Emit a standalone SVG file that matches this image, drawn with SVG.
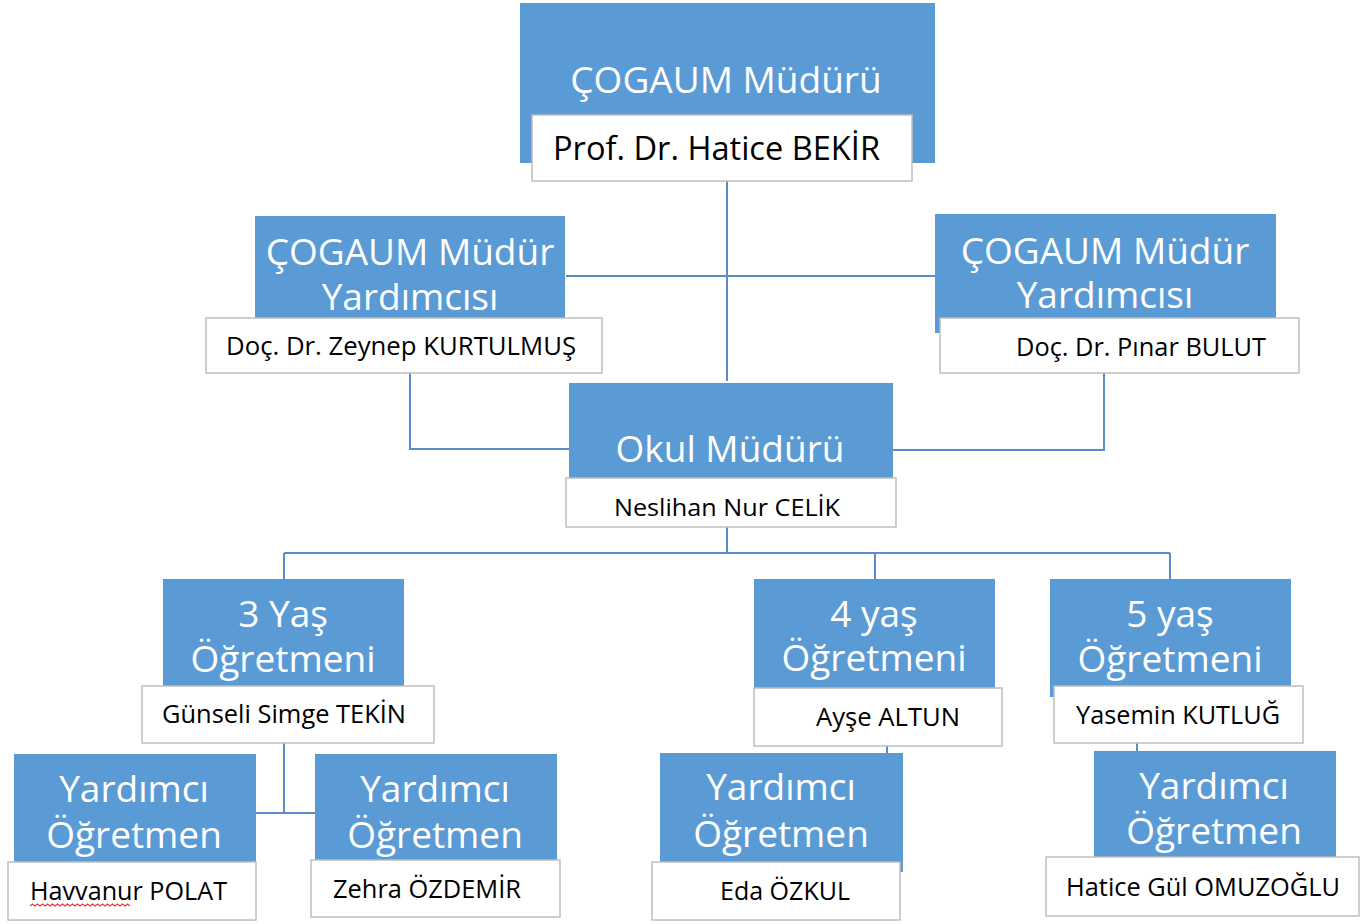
<svg xmlns="http://www.w3.org/2000/svg" width="1360" height="924" viewBox="0 0 1360 924">
<style>
.b{fill:#5B9BD5;}
.w{fill:#FFFFFF;stroke:#BFBFBF;stroke-width:1.5;}
.t{font-family:"Open Sans","Noto Sans",sans-serif;font-size:37px;fill:#FFFFFF;text-anchor:middle;}
.n{font-family:"Open Sans","Noto Sans",sans-serif;font-size:25px;fill:#000000;}
.c{fill:none;stroke:#5A8DC8;stroke-width:2;}
</style>
<rect width="1360" height="924" fill="#FFFFFF"/>
<g id="connectors">
<path class="c" d="M727 181 V381"/>
<path class="c" d="M566 276 H935"/>
<path class="c" d="M410 373 V449 H569"/>
<path class="c" d="M1104 373 V450 H893"/>
<path class="c" d="M727 527 V553"/>
<path class="c" d="M284 553 H1170"/>
<path class="c" d="M284 553 V579 M875 553 V579 M1170 553 V579"/>
<path class="c" d="M284 743 V813 M256 813 H315"/>
<path class="c" d="M887 746 V753" stroke-width="1.2"/>
<path class="c" d="M1137 743 V751" stroke-width="1.2"/>
</g>
<g id="cogaum-muduru">
<rect class="b" x="520" y="3" width="415" height="160"/>
<text class="t" x="726" y="93">ÇOGAUM Müdürü</text>
<rect class="w" x="532" y="115" width="380" height="66"/>
<text class="n" x="553" y="160" style="font-size:32px" textLength="327" lengthAdjust="spacingAndGlyphs">Prof. Dr. Hatice BEKİR</text>
</g>
<g id="mudur-yardimcisi-1">
<rect class="b" x="255" y="216" width="310" height="102"/>
<text class="t" x="410" y="265">ÇOGAUM Müdür</text>
<text class="t" x="410" y="310">Yardımcısı</text>
<rect class="w" x="206" y="318" width="396" height="55"/>
<text class="n" x="226" y="355" textLength="350" lengthAdjust="spacingAndGlyphs">Doç. Dr. Zeynep KURTULMUŞ</text>
</g>
<g id="mudur-yardimcisi-2">
<rect class="b" x="935" y="214" width="341" height="104"/>
<rect class="b" x="935" y="318" width="6" height="15"/>
<text class="t" x="1105" y="264">ÇOGAUM Müdür</text>
<text class="t" x="1105" y="308">Yardımcısı</text>
<rect class="w" x="940" y="318" width="359" height="55"/>
<text class="n" x="1016" y="356" textLength="250" lengthAdjust="spacingAndGlyphs">Doç. Dr. Pınar BULUT</text>
</g>
<g id="okul-muduru">
<rect class="b" x="569" y="383" width="324" height="95"/>
<text class="t" x="730" y="462">Okul Müdürü</text>
<rect class="w" x="566" y="478" width="330" height="49"/>
<text class="n" x="614" y="516" style="font-size:23px" textLength="226" lengthAdjust="spacingAndGlyphs">Neslihan Nur CELİK</text>
</g>
<g id="yas3-ogretmeni">
<rect class="b" x="163" y="579" width="241" height="107"/>
<text class="t" x="283" y="627">3 Yaş</text>
<text class="t" x="283" y="672">Öğretmeni</text>
<rect class="w" x="142" y="686" width="292" height="57"/>
<text class="n" x="162" y="723" textLength="244" lengthAdjust="spacingAndGlyphs">Günseli Simge TEKİN</text>
</g>
<g id="yas4-ogretmeni">
<rect class="b" x="754" y="579" width="241" height="109"/>
<text class="t" x="874" y="627">4 yaş</text>
<text class="t" x="874" y="671">Öğretmeni</text>
<rect class="w" x="754" y="688" width="248" height="58"/>
<text class="n" x="816" y="726" textLength="144" lengthAdjust="spacingAndGlyphs">Ayşe ALTUN</text>
</g>
<g id="yas5-ogretmeni">
<rect class="b" x="1050" y="579" width="241" height="107"/>
<rect class="b" x="1050" y="686" width="5" height="11"/>
<text class="t" x="1170" y="627">5 yaş</text>
<text class="t" x="1170" y="672">Öğretmeni</text>
<rect class="w" x="1054" y="686" width="249" height="57"/>
<text class="n" x="1076" y="724" textLength="204" lengthAdjust="spacingAndGlyphs">Yasemin KUTLUĞ</text>
</g>
<g id="yardimci-ogretmen-1">
<rect class="b" x="14" y="754" width="242" height="108"/>
<text class="t" x="134" y="802">Yardımcı</text>
<text class="t" x="134" y="848">Öğretmen</text>
<rect class="w" x="8" y="862" width="248" height="58"/>
<text class="n" x="30" y="900" textLength="197" lengthAdjust="spacingAndGlyphs">Havvanur POLAT</text>
<path d="M30 906 l2.5 -2 l2.5 2 l2.5 -2 l2.5 2 l2.5 -2 l2.5 2 l2.5 -2 l2.5 2 l2.5 -2 l2.5 2 l2.5 -2 l2.5 2 l2.5 -2 l2.5 2 l2.5 -2 l2.5 2 l2.5 -2 l2.5 2 l2.5 -2 l2.5 2 l2.5 -2 l2.5 2 l2.5 -2 l2.5 2 l2.5 -2 l2.5 2 l2.5 -2 l2.5 2 l2.5 -2 l2.5 2 l2.5 -2 l2.5 2 l2.5 -2 l2.5 2 l2.5 -2 l2.5 2 l2.5 -2 l2.5 2 l2.5 -2 l2.5 2" fill="none" stroke="#E8383D" stroke-width="1.2"/>
</g>
<g id="yardimci-ogretmen-2">
<rect class="b" x="315" y="754" width="242" height="108"/>
<text class="t" x="435" y="802">Yardımcı</text>
<text class="t" x="435" y="848">Öğretmen</text>
<rect class="w" x="311" y="860" width="249" height="57"/>
<text class="n" x="333" y="898" textLength="188" lengthAdjust="spacingAndGlyphs">Zehra ÖZDEMİR</text>
</g>
<g id="yardimci-ogretmen-3">
<rect class="b" x="660" y="753" width="243" height="119"/>
<text class="t" x="781" y="800">Yardımcı</text>
<text class="t" x="781" y="847">Öğretmen</text>
<rect class="w" x="652" y="862" width="248" height="58"/>
<text class="n" x="720" y="900" textLength="130" lengthAdjust="spacingAndGlyphs">Eda ÖZKUL</text>
</g>
<g id="yardimci-ogretmen-4">
<rect class="b" x="1094" y="751" width="242" height="106"/>
<text class="t" x="1214" y="799">Yardımcı</text>
<text class="t" x="1214" y="844">Öğretmen</text>
<rect class="w" x="1046" y="857" width="313" height="59"/>
<text class="n" x="1066" y="896" textLength="274" lengthAdjust="spacingAndGlyphs">Hatice Gül OMUZOĞLU</text>
</g>
</svg>
